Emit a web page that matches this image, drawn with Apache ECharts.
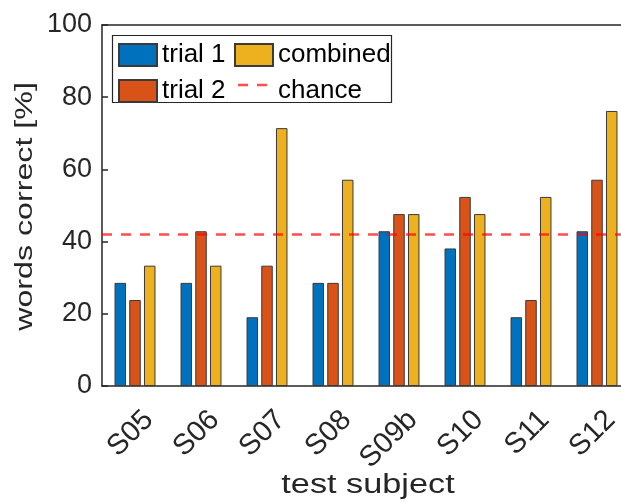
<!DOCTYPE html>
<html><head><meta charset="utf-8">
<script src="https://cdn.jsdelivr.net/npm/echarts@6/dist/echarts.min.js"></script>
<style>html,body{margin:0;padding:0;background:#fff}#c{width:621px;height:502px}</style>
</head><body><div id="c"></div>
<script>
const subjects = ['S05','S06','S07','S08','S09b','S10','S11','S12'];
const trial1   = [28.57, 28.57, 19.05, 28.57, 42.86, 38.10, 19.05, 42.86];
const trial2   = [23.81, 42.86, 33.33, 28.57, 47.62, 52.38, 23.81, 57.14];
const combined = [33.33, 33.33, 71.43, 57.14, 47.62, 47.62, 52.38, 76.19];
const chance   = [42];
const yTicks   = [0, 20, 40, 60, 80, 100];
const xTitle   = 'test subject';
const yTitle   = 'words correct [%]';

const FONT = 'Liberation Sans';
const AX = '#262626';
const CHANCE_COLOR = 'rgba(255,0,0,0.7)';
const chart = echarts.init(document.getElementById('c'), null, {renderer:'canvas'});
const legendText = {fontSize:26, color:'#000', fontFamily:FONT};
chart.setOption({
  animation:false,
  textStyle:{fontFamily:FONT},
  grid:{left:102, top:25, width:528, height:361, containLabel:false, outerBoundsMode:'none'},
  legend:[
    {left:118, top:42, padding:0, orient:'vertical', itemWidth:38, itemHeight:22, itemGap:10,
     data:[{name:'trial 1', icon:'rect'},{name:'trial 2', icon:'rect'}], textStyle:legendText},
    {left:234, top:42, padding:0, orient:'vertical', itemWidth:38, itemHeight:22, itemGap:10,
     data:[{name:'combined', icon:'rect'},{name:'chance', icon:'none'}], textStyle:legendText}
  ],
  graphic:[
    {type:'rect', shape:{x:112.5, y:35.5, width:279, height:67}, style:{fill:null, stroke:AX, lineWidth:1.2}, z:-1},
    {type:'line', shape:{x1:234, y1:85, x2:272, y2:85}, style:{stroke:CHANCE_COLOR, lineWidth:2.5, lineDash:[10,9], lineDashOffset:-4}},
    {type:'text', x:26, y:206.5, rotation:Math.PI/2, scaleX:1.4,
     style:{text:yTitle, font:'23px "Liberation Sans"', fill:'#262626', align:'center', verticalAlign:'middle'}},
    {type:'text', x:368, y:486, scaleX:1.27,
     style:{text:xTitle, font:'27px "Liberation Sans"', fill:'#262626', align:'center', verticalAlign:'middle'}}
  ],
  xAxis:[
    {type:'category', data:subjects, position:'bottom',
     axisLine:{lineStyle:{color:AX, width:1.5}},
     axisTick:{inside:true, alignWithLabel:true, length:6, lineStyle:{color:AX, width:1.5}},
     axisLabel:{rotate:45, fontSize:29, color:'#262626', fontFamily:FONT, margin:0,
       align:'right', verticalAlign:'top', padding:[16,11,0,0]}},
    {type:'category', data:subjects, position:'top',
     axisLine:{lineStyle:{color:AX, width:1.5}},
     axisTick:{inside:true, alignWithLabel:true, length:6, lineStyle:{color:AX, width:1.5}},
     axisLabel:{show:false}}
  ],
  yAxis:{type:'value', min:yTicks[0], max:yTicks[yTicks.length-1], interval:20,
     axisLine:{show:true, lineStyle:{color:AX, width:1.5}},
     axisTick:{show:true, inside:true, length:6, lineStyle:{color:AX, width:1.5}},
     splitLine:{show:false},
     axisLabel:{fontSize:27, color:'#262626', fontFamily:FONT, margin:10}},
  series:[
    {type:'bar', barWidth:11.5, barGap:'28%', name:'trial 1', data:trial1, itemStyle:{color:'#0072BD', borderColor:'#3a3a3a', borderWidth:1}},
    {type:'bar', barWidth:11.5, barGap:'28%', name:'trial 2', data:trial2, itemStyle:{color:'#D95319', borderColor:'#3a3a3a', borderWidth:1}},
    {type:'bar', barWidth:11.5, barGap:'28%', name:'combined', data:combined, itemStyle:{color:'#EDB120', borderColor:'#3a3a3a', borderWidth:1}},
    {type:'line', name:'chance', data:[], symbol:'none', itemStyle:{color:CHANCE_COLOR},
     lineStyle:{color:CHANCE_COLOR, type:[10,9], width:2.5},
     markLine:{symbol:'none', silent:true, label:{show:false},
       lineStyle:{color:CHANCE_COLOR, type:[10,9], width:2.5},
       data:[{yAxis:chance[0]}]}}
  ]
});
</script></body></html>
